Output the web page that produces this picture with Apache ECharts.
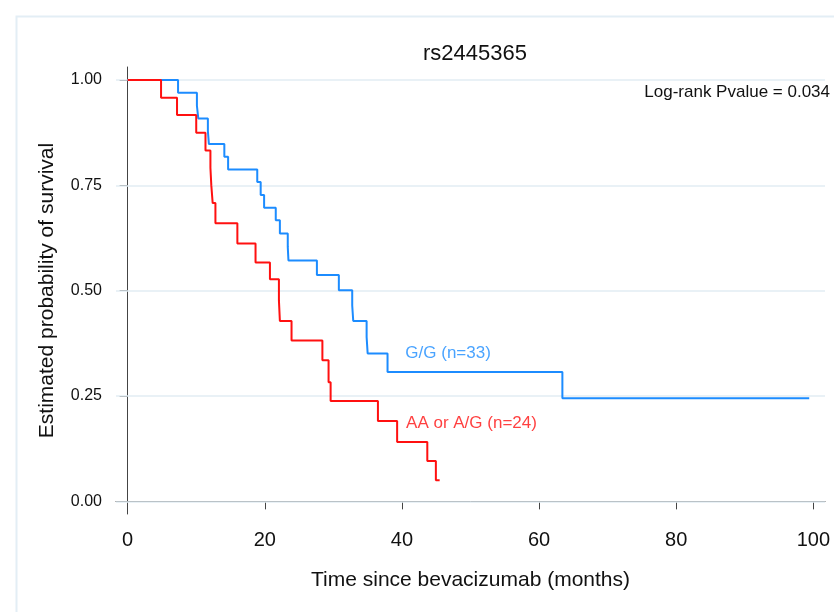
<!DOCTYPE html>
<html>
<head>
  <meta charset="utf-8">
  <title>rs2445365</title>
  <script src="https://cdn.jsdelivr.net/npm/echarts@6/dist/echarts.min.js"></script>
  <style>
    html, body { margin: 0; padding: 0; background: #fff; }
  </style>
</head>
<body>
  <div id="chart" style="width: 834px;height:612px;"></div>
  <script>
    // Kaplan-Meier steps: [months, survival]
    const ggSteps = [
      [0, 1], [7.35, 0.970], [10.1, 0.939], [10.3, 0.909], [11.7, 0.879], [11.85, 0.848],
      [14.1, 0.818], [14.65, 0.788], [18.9, 0.758], [19.4, 0.727], [19.9, 0.697],
      [21.6, 0.667], [22.2, 0.636], [23.35, 0.604], [23.45, 0.572], [27.6, 0.537],
      [30.8, 0.501], [32.75, 0.465], [32.9, 0.428], [34.85, 0.390], [35.0, 0.351],
      [37.9, 0.307], [63.4, 0.245], [99.4, 0.245]
    ];
    const aaSteps = [
      [0, 1], [4.87, 0.958], [7.2, 0.917], [10.0, 0.875], [11.35, 0.833],
      [12.07, 0.792], [12.2, 0.750], [12.4, 0.708], [12.8, 0.660], [16.0, 0.612],
      [18.65, 0.567], [20.75, 0.527], [22.06, 0.477], [22.2, 0.428], [23.9, 0.382],
      [28.4, 0.335], [29.3, 0.283], [29.6, 0.238], [36.5, 0.191], [39.3, 0.141],
      [43.7, 0.096], [44.95, 0.050], [45.5, 0.050]
    ];
    const xTicks = [0, 20, 40, 60, 80, 100];
    const yTicks = [0, 0.25, 0.5, 0.75, 1];
    const ggLabel = { name: 'G/G (n=33)', at: [40.5, 0.352] };
    const aaLabel = { name: 'AA or A/G (n=24)', at: [40.6, 0.185] };

    const BLUE = '#1c8cff', RED = '#ff1010';
    const font = '"Liberation Sans", Arial, sans-serif';

    let myChart = echarts.init(document.getElementById('chart'));
    let option = {
      animation: false,
      textStyle: { fontFamily: font },
      title: {
        text: 'rs2445365',
        left: 470, top: 38, textAlign: 'center',
        textStyle: { fontFamily: font, fontSize: 22, fontWeight: 'normal', color: '#111' }
      },
      graphic: [
        {
          type: 'rect', left: 14, top: 14, z: -1,
          shape: { width: 900, height: 700 },
          style: { fill: 'none', stroke: '#e3eef5', lineWidth: 2 }
        },
        {
          type: 'text', right: 4, top: 84,
          style: { text: 'Log-rank Pvalue = 0.034', font: '17px ' + font, fill: '#111' }
        }
      ],
      grid: { left: 116, right: 9, top: 67, bottom: 98 },
      xAxis: {
        type: 'value', min: -1.7, max: 101.7,
        name: 'Time since bevacizumab (months)',
        nameLocation: 'middle', nameGap: 56,
        nameTextStyle: { fontFamily: font, fontSize: 21, color: '#111' },
        axisLine: { show: true, lineStyle: { color: '#444', width: 1 } },
        axisTick: { show: true, length: 8, customValues: xTicks, lineStyle: { color: '#444' } },
        axisLabel: { customValues: xTicks, fontSize: 20, color: '#111', margin: 16, fontFamily: font },
        splitLine: { show: false }
      },
      yAxis: {
        type: 'value', min: -0.03, max: 1.031,
        name: 'Estimated probability of survival',
        nameLocation: 'middle', nameGap: 58,
        nameTextStyle: { fontFamily: font, fontSize: 21, color: '#111' },
        axisLine: { show: true, lineStyle: { color: '#444', width: 1 } },
        axisTick: { show: true, length: 8, customValues: yTicks, lineStyle: { color: '#444' } },
        axisLabel: {
          customValues: yTicks, fontSize: 16, color: '#111', margin: 14, fontFamily: font,
          formatter: v => v.toFixed(2)
        },
        splitLine: { show: false }
      },
      series: [
        {
          // light horizontal grid lines at the y ticks
          type: 'line', data: [], z: 1,
          markLine: {
            silent: true, symbol: 'none', z: 1,
            label: { show: false },
            lineStyle: { color: '#e2edf3', width: 1.5, type: 'solid' },
            data: yTicks.map(v => ({ yAxis: v }))
          }
        },
        {
          name: ggLabel.name, type: 'line', step: 'end', data: ggSteps,
          showSymbol: false, z: 3,
          lineStyle: { color: BLUE, width: 2 }
        },
        {
          name: aaLabel.name, type: 'line', step: 'end', data: aaSteps,
          showSymbol: false, z: 4,
          lineStyle: { color: RED, width: 2 }
        },
        {
          type: 'scatter', symbolSize: 0, z: 5,
          data: [ggLabel.at],
          label: {
            show: true, position: 'right', distance: 0,
            formatter: ggLabel.name, color: BLUE, fontSize: 17, fontFamily: font
          }
        },
        {
          type: 'scatter', symbolSize: 0, z: 5,
          data: [aaLabel.at],
          label: {
            show: true, position: 'right', distance: 0,
            formatter: aaLabel.name, color: RED, fontSize: 17, fontFamily: font
          }
        }
      ]
    };
    myChart.setOption(option);
  </script>
</body>
</html>
